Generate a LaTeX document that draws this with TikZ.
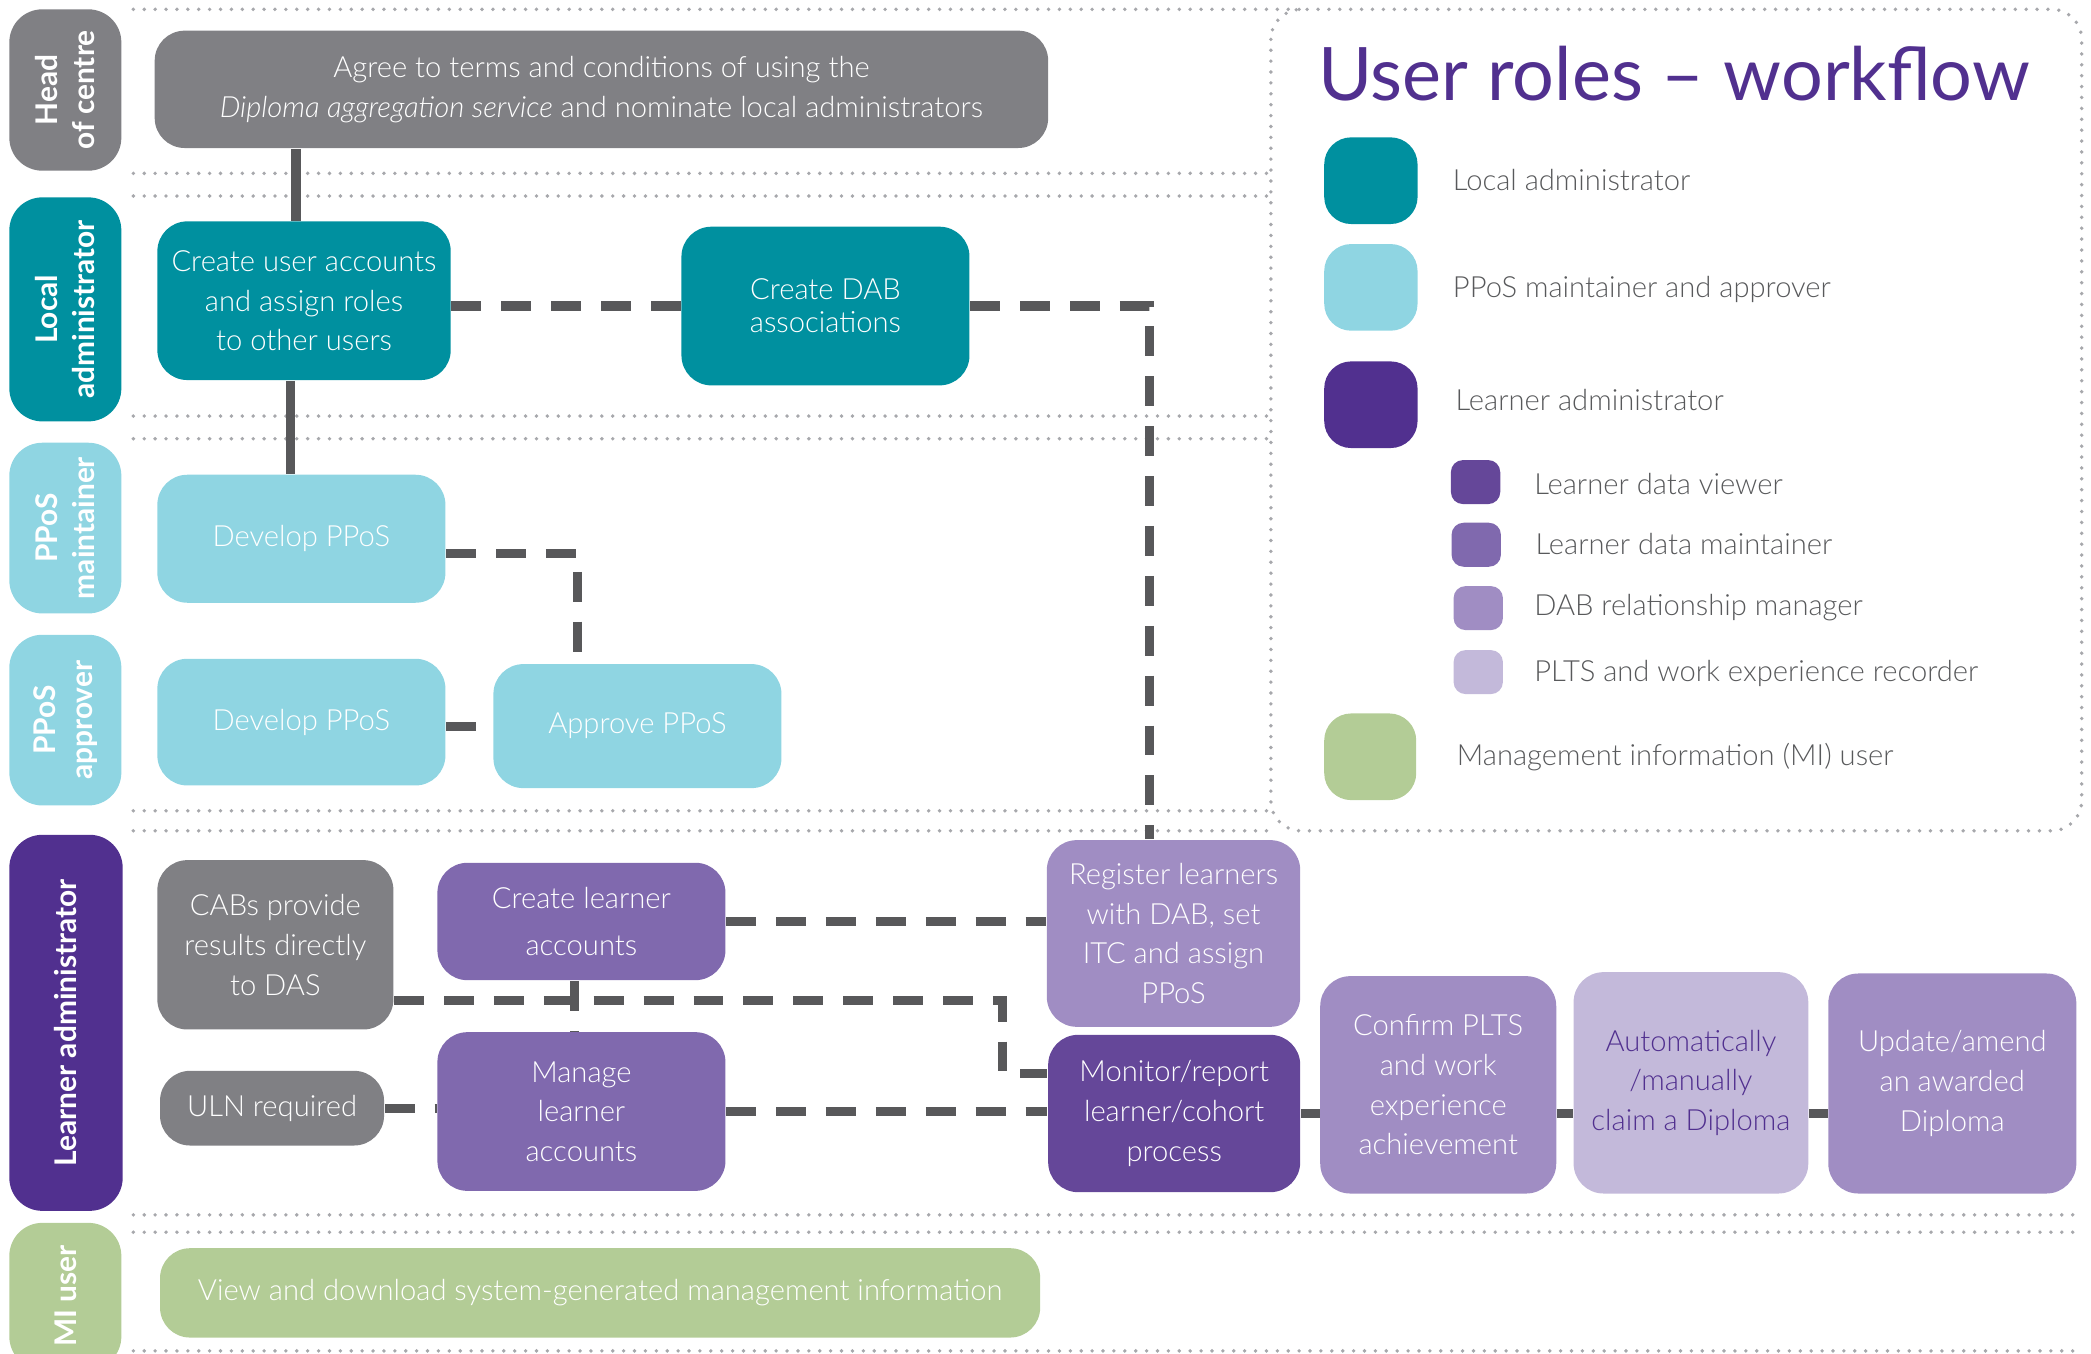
\documentclass[tikz,border=0pt]{standalone}
\usepackage{fontspec}
\setmainfont{Lato}[UprightFont=* Light, ItalicFont=* Light Italic, BoldFont=* Bold]
\newfontfamily\titlefont{Lato}
\usetikzlibrary{positioning}

\definecolor{hocgray}{HTML}{808084}
\definecolor{lateal}{HTML}{00909F}
\definecolor{pposblue}{HTML}{8FD5E2}
\definecolor{ladpurple}{HTML}{51308F}
\definecolor{viewerpurple}{HTML}{654799}
\definecolor{maintpurple}{HTML}{8069AE}
\definecolor{dabpurple}{HTML}{A08DC3}
\definecolor{pltspurple}{HTML}{C3B9DA}
\definecolor{migreen}{HTML}{B3CC96}
\definecolor{linkgray}{HTML}{58585A}
\definecolor{dotgray}{HTML}{A7A8AC}
\definecolor{legendgray}{HTML}{58595B}

\newcommand{\upx}{0.013335cm}

\tikzset{x=\upx, y=-\upx,
  task/.style={rounded corners=0.3cm, text=white, align=center, inner sep=0pt,
    font=\fontsize{8.3}{11.3}\selectfont},
  rolelabel/.style={rounded corners=0.33cm, text=white, align=center, rotate=90,
    inner sep=0pt, font=\bfseries\fontsize{8.5}{10.5}\selectfont},
  link/.style={draw=linkgray, line width=2.6pt, dash pattern=on 8.5pt off 5.7pt},
  solidlink/.style={draw=linkgray, line width=2.6pt},
  dotline/.style={draw=dotgray, line width=1.1pt, line cap=round, dash pattern=on 0pt off 3.1pt},
  swatch/.style={rounded corners=0.27cm, inner sep=0pt},
  smallswatch/.style={rounded corners=0.12cm, inner sep=0pt,
    minimum width=37*\upx, minimum height=33*\upx},
  legendtext/.style={text=legendgray, anchor=west, inner sep=0pt,
    font=\fontsize{8.3}{10}\selectfont}
}

\begin{document}
\begin{tikzpicture}
  \useasboundingbox (0,0) rectangle (1568,1015);
  \clip (0,0) rectangle (1568,1015);

  % lane separators
  \draw [dotline] (100,7) -- (975,7);
  \foreach \y in {130,147,312,329,608,623}
    \draw [dotline] (100,\y) -- (953,\y);
  \foreach \y in {911,924,1013}
    \draw [dotline] (100,\y) -- (1556,\y);
  \draw [dotline, rounded corners=0.3cm] (953,7) rectangle (1561,623);

  % roles
  \node (hoc) [rolelabel, fill=hocgray, minimum width=121*\upx, minimum height=84*\upx] at (49,67.5) {Head\\of centre};
  \node (la) [rolelabel, fill=lateal, minimum width=168*\upx, minimum height=84*\upx] at (49,232) {Local\\administrator};
  \node (pm) [rolelabel, fill=pposblue, minimum width=128*\upx, minimum height=84*\upx] at (49,396) {PPoS\\maintainer};
  \node (pa) [rolelabel, fill=pposblue, minimum width=128*\upx, minimum height=84*\upx] at (49,540) {PPoS\\approver};
  \node (lad) [rolelabel, fill=ladpurple, minimum width=282*\upx, minimum height=85*\upx] at (49.5,767) {Learner administrator};
  \node (mi) [rolelabel, fill=migreen, minimum width=110*\upx, minimum height=84*\upx] at (49,972) {MI user};

  % tasks
  \node (agree) [task, fill=hocgray, minimum width=670*\upx, minimum height=88*\upx] at (451,67)
    {Agree to terms and conditions of using the\\\textit{Diploma aggregation service} and nominate local administrators};
  \node (users) [task, fill=lateal, minimum width=220*\upx, minimum height=119*\upx] at (228,225.5)
    {Create user accounts\\and assign roles\\to other users};
  \node (dab) [task, fill=lateal, minimum width=216*\upx, minimum height=119*\upx] at (619,229.5)
    {Create DAB\\[-1.9pt]associations};
  \node (dev1) [task, fill=pposblue, minimum width=216*\upx, minimum height=96*\upx] at (226,404) {Develop PPoS};
  \node (dev2) [task, fill=pposblue, minimum width=216*\upx, minimum height=95*\upx] at (226,541.5) {Develop PPoS};
  \node (appr) [task, fill=pposblue, minimum width=216*\upx, minimum height=93*\upx] at (478,544.5) {Approve PPoS};
  \node (cabs) [task, fill=hocgray, minimum width=177*\upx, minimum height=127*\upx] at (206.5,708.5)
    {CABs provide\\results directly\\to DAS};
  \node (cla) [task, fill=maintpurple, minimum width=216*\upx, minimum height=88*\upx] at (436,691)
    {Create learner\\[2.3pt]accounts};
  \node (uln) [task, fill=hocgray, minimum width=168*\upx, minimum height=56*\upx] at (204,831) {ULN required};
  \node (man) [task, fill=maintpurple, minimum width=216*\upx, minimum height=119*\upx] at (436,833.5)
    {Manage\\learner\\accounts};
  \node (reg) [task, fill=dabpurple, minimum width=190*\upx, minimum height=140*\upx] at (880,700)
    {Register learners\\with DAB, set\\ITC and assign\\PPoS};
  \node (mon) [task, fill=viewerpurple, minimum width=189*\upx, minimum height=118*\upx] at (880.5,835)
    {Monitor/report\\learner/cohort\\process};
  \node (conf) [task, fill=dabpurple, minimum width=177*\upx, minimum height=163*\upx] at (1078.5,813.5)
    {Confirm PLTS\\and work\\experience\\achievement};
  \node (auto) [task, fill=pltspurple, text=ladpurple, minimum width=176*\upx, minimum height=166*\upx] at (1268,812)
    {Automatically\\/manually\\claim a Diploma};
  \node (upd) [task, fill=dabpurple, minimum width=186*\upx, minimum height=165*\upx] at (1464,812.5)
    {Update/amend\\an awarded\\Diploma};
  \node (view) [task, fill=migreen, minimum width=660*\upx, minimum height=67*\upx] at (450,969.5)
    {View and download system-generated management information};

  % connectors
  \draw [solidlink] ([xshift=-6*\upx]users.north) -- ([xshift=-6*\upx]users.north |- agree.south);
  \draw [solidlink] ([xshift=-10*\upx]users.south) -- ([xshift=-10*\upx]users.south |- dev1.north);
  \draw [link] (users.east |- dab.west) -- (dab.west);
  \draw [link] (dab.east) -| ([xshift=-18*\upx]reg.north);
  \draw [link] ([yshift=-11*\upx]dev1.east) -| ([xshift=-45*\upx]appr.north);
  \draw [link] (dev2.east |- appr.west) -- (appr.west);
  \draw [link] (cla.east) -- (cla.east -| reg.west);
  \draw [link] ([yshift=-42*\upx]cabs.east) -| ([xshift=-34*\upx,yshift=30*\upx]mon.west) -- ([yshift=30*\upx]mon.west);
  \draw [link] ([xshift=-5*\upx]cla.south) -- ([xshift=-5*\upx]man.north);
  \draw [link] (uln.east) -- (uln.east -| man.west);
  \draw [link] (man.east) -- (man.east -| mon.west);
  \draw [solidlink] (mon.east) -- (mon.east -| conf.west);
  \draw [solidlink] (conf.east |- mon.east) -- (auto.west |- mon.east);
  \draw [solidlink] (auto.east |- mon.east) -- (upd.west |- mon.east);

  % legend
  \node (title) [anchor=base west, inner sep=0pt, text=ladpurple, font=\titlefont\fontsize{21}{25}\selectfont] at (988,75) {User roles – workflow};
  \node (swla) [swatch, fill=lateal, minimum width=70*\upx, minimum height=65*\upx] at (1028,135.5) {};
  \node (swpp) [swatch, fill=pposblue, minimum width=70*\upx, minimum height=65*\upx] at (1028,215.5) {};
  \node (swlad) [swatch, fill=ladpurple, minimum width=70*\upx, minimum height=65*\upx] at (1028,303.5) {};
  \node (swview) [smallswatch, fill=viewerpurple] at (1106.5,361.5) {};
  \node (swmaint) [smallswatch, fill=maintpurple] at (1107,408.5) {};
  \node (swdab) [smallswatch, fill=dabpurple] at (1108.5,456) {};
  \node (swplts) [smallswatch, fill=pltspurple] at (1108.5,504) {};
  \node (swmi) [swatch, fill=migreen, minimum width=69*\upx, minimum height=65*\upx] at (1027.5,567.5) {};

  \node (tla) [legendtext] at (1089,135) {Local administrator};
  \node (tpp) [legendtext] at (1089,217) {PPoS maintainer and approver};
  \node (tlad) [legendtext] at (1091,300) {Learner administrator};
  \node (tview) [legendtext] at (1150,363) {Learner data viewer};
  \node (tmaint) [legendtext] at (1151,408) {Learner data maintainer};
  \node (tdab) [legendtext] at (1150,456) {DAB relationship manager};
  \node (tplts) [legendtext] at (1150,505) {PLTS and work experience recorder};
  \node (tmi) [legendtext] at (1092,568) {Management information (MI) user};
\end{tikzpicture}
\end{document}
